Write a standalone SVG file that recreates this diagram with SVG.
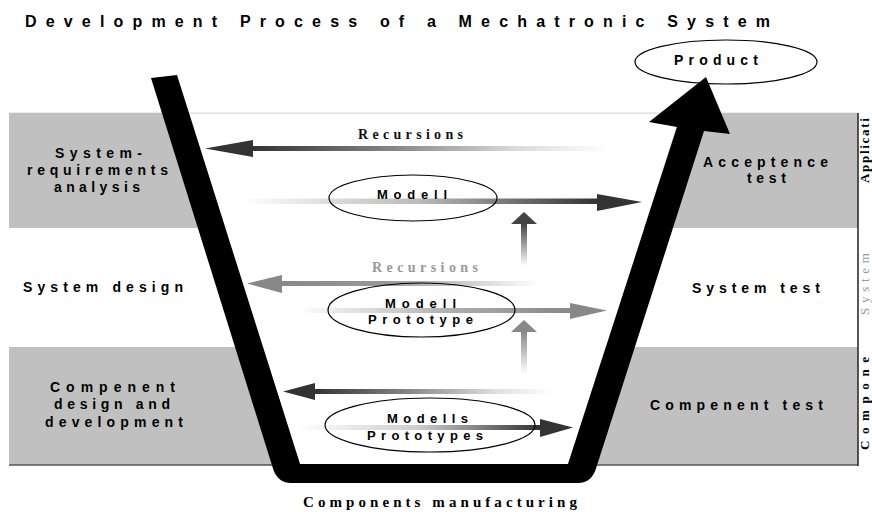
<svg xmlns="http://www.w3.org/2000/svg" width="872" height="512" viewBox="0 0 872 512">
  <style>
    .sans { font-family: "Liberation Sans", Arial, sans-serif; font-weight: bold; fill: #000; }
    .serif { font-family: "Liberation Serif", "Times New Roman", serif; font-weight: bold; }
    .lbl { font-size: 14px; }
    .ell { font-size: 13px; }
    .oval { fill: none; stroke: #000; stroke-width: 1.2; }
    .level { font-size: 13px; }
  </style>
  <defs>
    <linearGradient id="gRecTop" gradientUnits="userSpaceOnUse" x1="253" y1="0" x2="610" y2="0">
      <stop offset="0" stop-color="#333"/><stop offset="0.4" stop-color="#888"/><stop offset="0.75" stop-color="#ddd"/><stop offset="1" stop-color="#fff"/>
    </linearGradient>
    <linearGradient id="gModTop" gradientUnits="userSpaceOnUse" x1="240" y1="0" x2="597" y2="0">
      <stop offset="0" stop-color="#fff"/><stop offset="0.5" stop-color="#bbb"/><stop offset="1" stop-color="#333"/>
    </linearGradient>
    <linearGradient id="gRecMid" gradientUnits="userSpaceOnUse" x1="282" y1="0" x2="540" y2="0">
      <stop offset="0" stop-color="#888"/><stop offset="0.4" stop-color="#999"/><stop offset="1" stop-color="#fff"/>
    </linearGradient>
    <linearGradient id="gModMid" gradientUnits="userSpaceOnUse" x1="297" y1="0" x2="570" y2="0">
      <stop offset="0" stop-color="#fff"/><stop offset="0.6" stop-color="#aaa"/><stop offset="1" stop-color="#888"/>
    </linearGradient>
    <linearGradient id="gRecBot" gradientUnits="userSpaceOnUse" x1="315" y1="0" x2="553" y2="0">
      <stop offset="0" stop-color="#333"/><stop offset="0.4" stop-color="#888"/><stop offset="0.75" stop-color="#ddd"/><stop offset="1" stop-color="#fff"/>
    </linearGradient>
    <linearGradient id="gModBot" gradientUnits="userSpaceOnUse" x1="297" y1="0" x2="540" y2="0">
      <stop offset="0" stop-color="#fff"/><stop offset="0.5" stop-color="#ccc"/><stop offset="1" stop-color="#333"/>
    </linearGradient>
    <linearGradient id="gUpTop" gradientUnits="userSpaceOnUse" x1="0" y1="224" x2="0" y2="266">
      <stop offset="0" stop-color="#444"/><stop offset="1" stop-color="#fff"/>
    </linearGradient>
    <linearGradient id="gUpMid" gradientUnits="userSpaceOnUse" x1="0" y1="332" x2="0" y2="374">
      <stop offset="0" stop-color="#888"/><stop offset="1" stop-color="#fff"/>
    </linearGradient>
  </defs>

  <rect width="872" height="512" fill="#fff"/>

  <!-- title -->
  <text class="sans" x="25" y="27" font-size="16" textLength="745" lengthAdjust="spacing">Development Process of a Mechatronic System</text>

  <!-- phase bands -->
  <g id="bands">
    <line x1="9" y1="113" x2="858" y2="113" stroke="#ddd" stroke-width="1"/>
    <rect x="9" y="113" width="849" height="115" fill="#c0c0c0"/>
    <rect x="9" y="347" width="849" height="118" fill="#c0c0c0"/>
    <line x1="9" y1="465" x2="858" y2="465" stroke="#555" stroke-width="1.5"/>
    <line x1="858" y1="113" x2="858" y2="466" stroke="#222" stroke-width="1.5"/>
    <!-- open interior of the V -->
    <polygon points="189,113 681,113 568,464 300,464" fill="#fff"/>
    <line x1="189" y1="113.5" x2="681" y2="113.5" stroke="#e2e2e2" stroke-width="1"/>
  </g>

  <!-- left side phases -->
  <g id="sys-req">
    <text class="sans lbl" x="55" y="158" textLength="87" lengthAdjust="spacing">System-</text>
    <text class="sans lbl" x="27" y="175" textLength="141" lengthAdjust="spacing">requirements</text>
    <text class="sans lbl" x="54" y="192" textLength="86" lengthAdjust="spacing">analysis</text>
  </g>
  <g id="sys-design">
    <text class="sans lbl" x="23" y="292" textLength="160" lengthAdjust="spacing">System design</text>
  </g>
  <g id="comp-design">
    <text class="sans lbl" x="50" y="391.5" textLength="125" lengthAdjust="spacing">Compenent</text>
    <text class="sans lbl" x="54" y="409" textLength="116" lengthAdjust="spacing">design and</text>
    <text class="sans lbl" x="45" y="426.5" textLength="138" lengthAdjust="spacing">development</text>
  </g>

  <!-- right side phases -->
  <g id="acceptance">
    <text class="sans lbl" x="703" y="167" textLength="125" lengthAdjust="spacing">Acceptence</text>
    <text class="sans lbl" x="747" y="183" textLength="39" lengthAdjust="spacing">test</text>
  </g>
  <g id="sys-test">
    <text class="sans lbl" x="692" y="293" textLength="128" lengthAdjust="spacing">System test</text>
  </g>
  <g id="comp-test">
    <text class="sans lbl" x="650" y="410" textLength="173" lengthAdjust="spacing">Compenent test</text>
  </g>

  <!-- level captions along the right edge -->
  <g id="levels">
    <text class="serif level" fill="#000" transform="translate(868.5,183) rotate(-90)" textLength="65" lengthAdjust="spacing">Applicati</text>
    <text class="level" fill="#999" font-family="Liberation Serif, Times New Roman, serif" transform="translate(868.5,315) rotate(-90)" textLength="62" lengthAdjust="spacing">System</text>
    <text class="serif level" fill="#000" transform="translate(868.5,450) rotate(-90)" textLength="93" lengthAdjust="spacing">Compone</text>
  </g>

  <!-- product -->
  <g id="product">
    <ellipse cx="726" cy="62" rx="91" ry="22" fill="#fff" stroke="#000" stroke-width="1.2"/>
    <text class="sans lbl" x="674" y="65" textLength="84" lengthAdjust="spacing">Product</text>
  </g>

  <!-- flow arrows -->
  <g id="connectors">
    <!-- level 1 -->
    <rect x="252" y="146" width="358" height="5" fill="url(#gRecTop)"/>
    <polygon points="205,148.5 253,140 253,157" fill="#333"/>
    <rect x="240" y="198.5" width="358" height="5.5" fill="url(#gModTop)"/>
    <polygon points="642,202 597,194 597,211" fill="#333"/>
    <rect x="521" y="223" width="6" height="43" fill="url(#gUpTop)"/>
    <polygon points="524,212 511,224 537,224" fill="#444"/>
    <!-- level 2 -->
    <rect x="281" y="281" width="259" height="5" fill="url(#gRecMid)"/>
    <polygon points="247,283.5 282,275 282,293" fill="#888"/>
    <rect x="297" y="308" width="274" height="5" fill="url(#gModMid)"/>
    <polygon points="607,310.5 570,303 570,319" fill="#888"/>
    <rect x="521" y="331" width="6" height="43" fill="url(#gUpMid)"/>
    <polygon points="524,320 511,332 537,332" fill="#888"/>
    <!-- level 3 -->
    <rect x="314" y="389" width="239" height="5" fill="url(#gRecBot)"/>
    <polygon points="283,391.5 315,383 315,400" fill="#333"/>
    <rect x="297" y="425" width="244" height="5" fill="url(#gModBot)"/>
    <polygon points="573,427.5 540,419 540,437" fill="#333"/>
  </g>

  <!-- labels on the arrows -->
  <g id="recursions-1">
    <text class="serif" font-size="14" fill="#111" x="358" y="139" textLength="105" lengthAdjust="spacing">Recursions</text>
  </g>
  <g id="recursions-2">
    <text class="serif" font-size="14" fill="#999" x="372" y="272" textLength="106" lengthAdjust="spacing">Recursions</text>
  </g>
  <g id="modell">
    <ellipse class="oval" cx="413" cy="198" rx="84" ry="23"/>
    <text class="sans ell" x="377" y="199" textLength="70" lengthAdjust="spacing">Modell</text>
  </g>
  <g id="modell-prototype">
    <ellipse class="oval" cx="421.5" cy="310" rx="93.5" ry="27"/>
    <text class="sans ell" x="385" y="308" textLength="71" lengthAdjust="spacing">Modell</text>
    <text class="sans ell" x="368" y="324" textLength="105" lengthAdjust="spacing">Prototype</text>
  </g>
  <g id="modells-prototypes">
    <ellipse class="oval" cx="430" cy="425" rx="105" ry="27"/>
    <text class="sans ell" x="387" y="423" textLength="81" lengthAdjust="spacing">Modells</text>
    <text class="sans ell" x="367" y="440" textLength="116" lengthAdjust="spacing">Prototypes</text>
  </g>

  <!-- V-shaped process path ending in an arrow to the product -->
  <g id="process-v">
    <path fill="#000" d="M151,78 L177,75 L300,464 L568,464 L677,127 L649,122 L706,77 L730,134 L704,131 L596.5,467 Q592,483 578,483 L291,483 Q277,483 272.5,467 Z"/>
  </g>

  <g id="manufacturing">
    <text class="serif" font-size="15" fill="#000" x="303" y="507" textLength="274" lengthAdjust="spacing">Components manufacturing</text>
  </g>
</svg>
